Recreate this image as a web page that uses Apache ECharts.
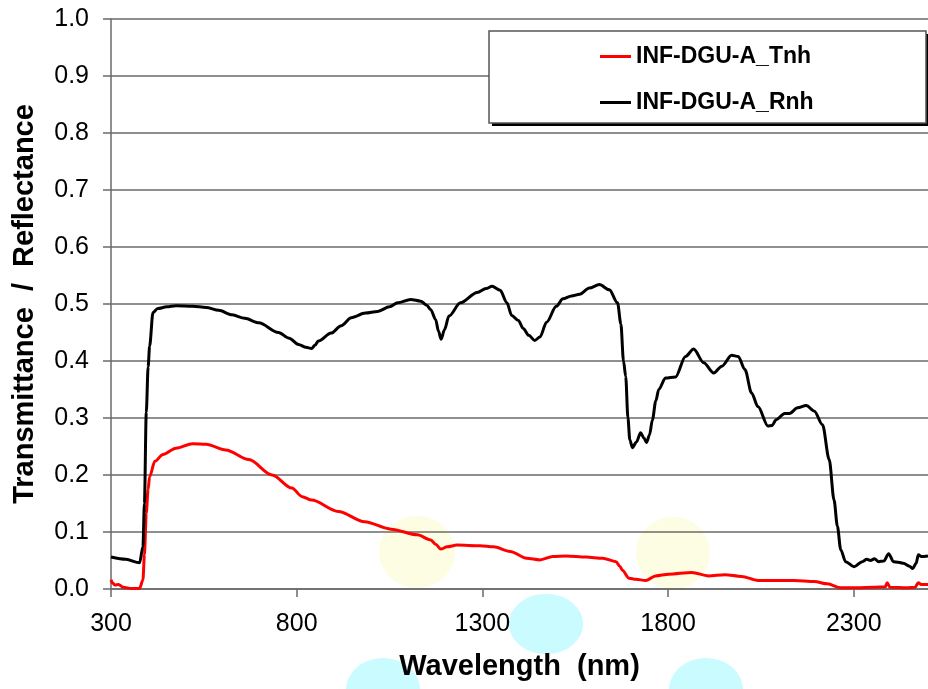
<!DOCTYPE html>
<html>
<head>
<meta charset="utf-8">
<script src="https://cdn.jsdelivr.net/npm/echarts@6/dist/echarts.min.js"></script>
<style>
html,body{margin:0;padding:0;background:#fff;}
#chart{width:928px;height:689px;}
</style>
</head>
<body>
<div id="chart"></div>
<script>
var seriesNames = ['INF-DGU-A_Tnh', 'INF-DGU-A_Rnh'];
var xTickLabels = ['300', '800', '1300', '1800', '2300'];

var rnhWavelength = [300,340,377,386,390,395,400,404,413,426,450,475,520,556,590,626,660,698,751,780,805,825,840,850,858,893,920,947,985,1018,1050,1072,1107,1134,1150,1161,1174,1182,1189,1198,1210,1241,1286,1310,1326,1348,1366,1379,1397,1410,1425,1441,1455,1473,1499,1517,1540,1562,1588,1615,1642,1664,1673,1680,1686,1692,1697,1704,1715,1726,1735,1742,1750,1758,1767,1775,1793,1820,1847,1869,1896,1923,1945,1971,1989,2007,2025,2042,2069,2080,2091,2114,2127,2149,2172,2194,2216,2234,2247,2256,2265,2278,2301,2323,2335,2345,2356,2367,2381,2394,2407,2420,2434,2450,2459,2468,2474,2482,2500];
var rnhValue = [0.056,0.052,0.046,0.074,0.15,0.31,0.39,0.426,0.485,0.492,0.495,0.497,0.496,0.494,0.489,0.481,0.475,0.467,0.450,0.440,0.429,0.424,0.422,0.428,0.435,0.449,0.462,0.476,0.484,0.487,0.495,0.502,0.508,0.505,0.498,0.490,0.473,0.452,0.438,0.455,0.479,0.502,0.520,0.527,0.531,0.524,0.502,0.480,0.471,0.457,0.445,0.436,0.442,0.468,0.496,0.509,0.514,0.517,0.528,0.534,0.525,0.502,0.465,0.40,0.373,0.30,0.262,0.248,0.258,0.274,0.265,0.257,0.270,0.297,0.330,0.350,0.370,0.372,0.408,0.421,0.397,0.379,0.391,0.410,0.408,0.385,0.344,0.320,0.286,0.287,0.297,0.308,0.308,0.318,0.322,0.312,0.288,0.227,0.156,0.110,0.069,0.048,0.039,0.048,0.052,0.050,0.053,0.048,0.049,0.062,0.048,0.047,0.045,0.040,0.036,0.045,0.060,0.057,0.058];

var tnhWavelength = [300,305,311,320,333,355,377,386,390,395,400,404,418,440,475,520,556,609,671,734,787,815,840,912,983,1054,1125,1161,1175,1188,1205,1232,1294,1330,1375,1419,1455,1490,1526,1579,1624,1660,1670,1677,1695,1713,1740,1766,1802,1864,1909,1953,1998,2042,2087,2140,2194,2229,2265,2310,2354,2385,2390,2398,2443,2465,2474,2482,2500];
var tnhValue = [0.016,0.010,0.007,0.008,0.003,0.001,0.001,0.016,0.06,0.133,0.175,0.197,0.224,0.236,0.247,0.255,0.254,0.244,0.227,0.200,0.177,0.162,0.156,0.136,0.118,0.105,0.095,0.086,0.078,0.070,0.074,0.077,0.076,0.074,0.066,0.054,0.051,0.057,0.058,0.056,0.054,0.048,0.040,0.033,0.019,0.017,0.015,0.023,0.026,0.029,0.023,0.025,0.022,0.015,0.015,0.015,0.013,0.009,0.002,0.002,0.003,0.004,0.011,0.003,0.002,0.003,0.011,0.008,0.008];

function pairs(xs, ys) {
  var out = [];
  for (var i = 0; i < xs.length; i++) out.push([xs[i], ys[i]]);
  return out;
}

var chart = echarts.init(document.getElementById('chart'), null, {renderer: 'canvas'});
var FONT = '"Liberation Sans", Arial, Helvetica, sans-serif';
var GRID = '#6a6a6a';

chart.setOption({
  animation: false,
  backgroundColor: '#ffffff',
  textStyle: {fontFamily: FONT},
  grid: {left: 111, top: 19, right: -7, bottom: 100, containLabel: false},
  graphic: [
    {type: 'ellipse', z: -5, shape: {cx: 417, cy: 552, rx: 38, ry: 36}, style: {fill: '#fdfde3'}},
    {type: 'ellipse', z: -5, shape: {cx: 673, cy: 553, rx: 37, ry: 36}, style: {fill: '#fdfde3'}},
    {type: 'ellipse', z: -5, shape: {cx: 546, cy: 624, rx: 37, ry: 30}, style: {fill: '#c9fbff'}},
    {type: 'ellipse', z: -5, shape: {cx: 383, cy: 690, rx: 37, ry: 32}, style: {fill: '#c9fbff'}},
    {type: 'ellipse', z: -5, shape: {cx: 706, cy: 690, rx: 37, ry: 32}, style: {fill: '#c9fbff'}},
    {type: 'rect', z: 5, shape: {x: 492, y: 34, width: 437, height: 92}, style: {fill: '#000000'}},
    {type: 'rect', z: 6, shape: {x: 489, y: 31, width: 437, height: 92},
     style: {fill: '#ffffff', stroke: '#555555', lineWidth: 1.5}}
  ],
  legend: {
    z: 10,
    orient: 'vertical',
    left: 600,
    top: 45,
    padding: 0,
    itemWidth: 31,
    itemHeight: 3,
    itemGap: 23,
    icon: 'rect',
    data: seriesNames,
    textStyle: {fontFamily: FONT, fontSize: 23, fontWeight: 'bold', color: '#000'}
  },
  xAxis: {
    type: 'value',
    min: 300,
    max: 2500,
    interval: 500,
    name: 'Wavelength  (nm)',
    nameLocation: 'middle',
    nameGap: 63,
    nameTextStyle: {fontFamily: FONT, fontSize: 29, fontWeight: 'bold', color: '#000'},
    axisLine: {show: true, lineStyle: {color: GRID, width: 1.5}},
    axisTick: {show: true, inside: false, length: 8, lineStyle: {color: GRID, width: 1.5}},
    axisLabel: {
      fontFamily: FONT, fontSize: 25, color: '#000', margin: 23,
      showMaxLabel: false,
      formatter: function (v) {
        var s = String(v);
        return xTickLabels.indexOf(s) >= 0 ? s : '';
      }
    },
    splitLine: {show: false}
  },
  yAxis: {
    type: 'value',
    min: 0,
    max: 1,
    interval: 0.1,
    name: 'Transmittance  /  Reflectance',
    nameLocation: 'middle',
    nameGap: 72,
    nameTextStyle: {fontFamily: FONT, fontSize: 29, fontWeight: 'bold', color: '#000'},
    axisLine: {show: true, lineStyle: {color: GRID, width: 1.5}},
    axisTick: {show: true, inside: false, length: 8, lineStyle: {color: GRID, width: 1.5}},
    axisLabel: {
      fontFamily: FONT, fontSize: 25, color: '#000', margin: 22,
      formatter: function (v) { return v.toFixed(1); }
    },
    splitLine: {show: true, lineStyle: {color: GRID, width: 1.5}}
  },
  series: [
    {
      name: seriesNames[0],
      type: 'line',
      data: pairs(tnhWavelength, tnhValue),
      showSymbol: false,
      smooth: 0.3,
      smoothMonotone: 'x',
      color: '#ff0000',
      lineStyle: {color: '#ff0000', width: 3},
      z: 3
    },
    {
      name: seriesNames[1],
      type: 'line',
      data: pairs(rnhWavelength, rnhValue),
      showSymbol: false,
      smooth: 0.3,
      smoothMonotone: 'x',
      color: '#000000',
      lineStyle: {color: '#000000', width: 3},
      z: 3
    }
  ]
});
</script>
</body>
</html>
